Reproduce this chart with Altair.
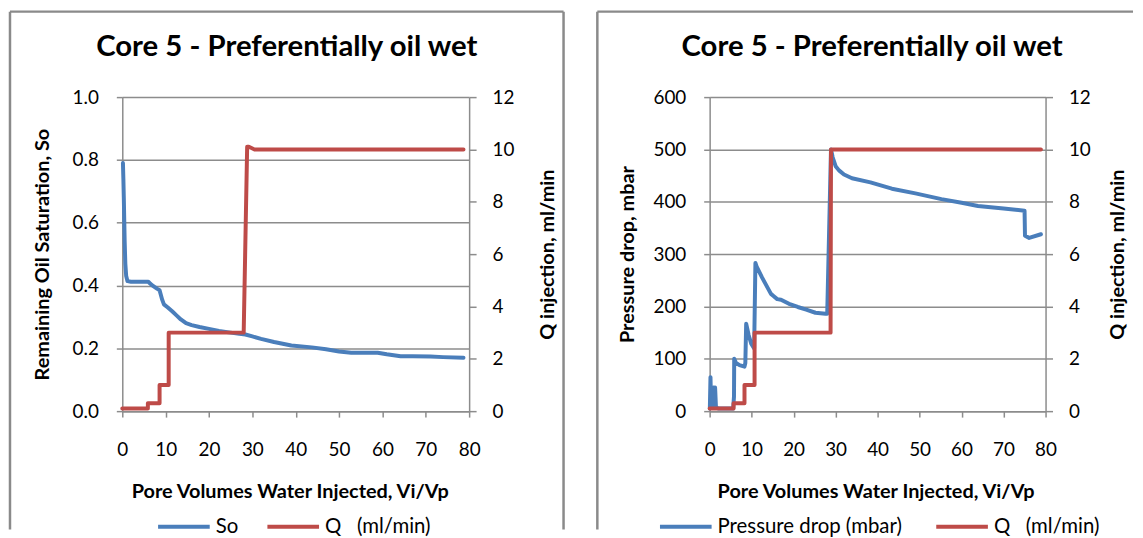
import altair as alt
import pandas as pd

FONT = "Lato"
BLUE = "#4A7EBB"
RED = "#BE4B48"
GRID = "#8C8C8C"

TITLE = "Core 5 - Preferentially oil wet"
X_TITLE = "Pore Volumes Water Injected, Vi/Vp"
Q_LABEL = "Q\u00a0\u00a0\u00a0(ml/min)"

# ---- left panel: remaining oil saturation ----
so_x = [0.15, 0.25, 0.35, 0.45, 0.55, 0.7, 0.9, 1.2, 2, 4, 6.0, 6.5, 7.0, 8.0, 8.6, 9.2, 9.6, 10.5,
        11.5, 12.5, 13.5, 14.7, 16, 17.8, 20, 22.3, 25, 27, 28.4, 30, 32, 35, 39, 43.7, 47, 50,
        52.8, 55, 58.9, 61, 64.2, 67, 71.1, 74, 78.7]
so_y = [0.79, 0.74, 0.68, 0.61, 0.54, 0.47, 0.43, 0.414, 0.412, 0.412, 0.412, 0.405, 0.40, 0.39,
        0.385, 0.355, 0.34, 0.33, 0.318, 0.305, 0.292, 0.28, 0.274, 0.268, 0.262, 0.255, 0.25,
        0.246, 0.244, 0.238, 0.23, 0.22, 0.209, 0.203, 0.197, 0.19, 0.186, 0.186, 0.186, 0.181,
        0.175, 0.175, 0.174, 0.172, 0.170]

q1_x = [0, 5.9, 5.9, 8.6, 8.6, 10.7, 10.7, 28.0, 28.8, 29.2, 30.5, 78.7]
q1_y = [0.1, 0.1, 0.3, 0.3, 1.0, 1.0, 3.0, 3.0, 10.1, 10.1, 10.0, 10.0]

# ---- right panel: pressure drop ----
dp_x = [0.05, 0.2, 0.35, 0.5, 0.7, 0.9, 1.1, 1.3, 1.5, 2.0, 5.6, 5.8, 5.85, 6.3, 7.1, 8.3, 8.5,
        8.7, 9.3, 9.9, 10.6, 10.9, 11.2, 12.5, 14.6, 15.2, 16.1, 17, 18.9, 21, 23, 25.2, 27.6,
        28.0, 28.9, 29.3, 30.0, 30.8, 32, 33.9, 38.3, 43.4, 49, 55.2, 60, 63.9, 70, 75, 75.1,
        76.1, 78.9]
dp_y = [5, 65, 10, 40, 8, 45, 12, 45, 8, 5, 5, 28, 100, 92, 88, 85, 92, 167, 145, 129, 120, 283,
        276, 255, 224, 220, 214, 213, 205, 199, 194, 188, 186, 186, 500, 485, 468, 460, 452, 445,
        437, 425, 416, 405, 398, 392, 387, 383, 335, 331, 338]

q2_x = [0, 5.7, 5.7, 8.3, 8.3, 10.7, 10.7, 28.8, 28.9, 78.9]
q2_y = [0.1, 0.1, 0.3, 0.3, 1.0, 1.0, 3.0, 3.0, 10.0, 10.0]

W1, W2, H = 349, 338, 316


def panel(width, main_x, main_y, main_name, main_title, main_dom, main_step,
          qx, qy, legend_x, col_pad, right_frame, top_end, ltitle_pad, rtitle_pad, xtitle_dx):
    d_main = pd.DataFrame({"x": main_x, "y": main_y, "s": main_name})
    d_q = pd.DataFrame({"x": qx, "q": qy, "s": Q_LABEL})
    color = alt.Color(
        "s:N",
        scale=alt.Scale(domain=[main_name, Q_LABEL], range=[BLUE, RED]),
        legend=alt.Legend(
            title=None, orient="none", legendX=legend_x, legendY=404,
            direction="horizontal", symbolType="stroke", symbolSize=2700,
            symbolStrokeWidth=4, labelFontSize=20.5, labelFont=FONT, labelColor="#000",
            columnPadding=col_pad, labelOffset=4, padding=0, labelLimit=400,
        ),
    )
    xenc = alt.X(
        "x:Q",
        scale=alt.Scale(domain=[0, 80], nice=False),
        axis=alt.Axis(
            values=list(range(0, 81, 10)), title=X_TITLE, grid=False, labelFlush=False,
            domainColor=GRID, tickColor=GRID, tickSize=6, domainWidth=1.5, tickWidth=1.5,
            labelFont=FONT, labelFontSize=19, labelColor="#000", labelPadding=24,
            titleFont=FONT, titleFontSize=20, titleFontWeight="bold", titleColor="#000",
            titlePadding=22, titleX=width / 2 + xtitle_dx,
        ),
    )
    yvals = []
    v = main_dom[0]
    while v <= main_dom[1] + 1e-9:
        yvals.append(round(v, 6))
        v += main_step
    main = alt.Chart(d_main).mark_line(strokeWidth=4, strokeJoin="round", strokeCap="round").encode(
        x=xenc,
        y=alt.Y(
            "y:Q",
            scale=alt.Scale(domain=main_dom, nice=False),
            axis=alt.Axis(
                title=main_title, values=yvals, labelFlush=False,
                format=".1f" if main_step < 1 else "d",
                grid=True, gridColor=GRID, gridWidth=1.5,
                domainColor=GRID, tickColor=GRID, tickSize=6, domainWidth=1.5, tickWidth=1.5,
                labelFont=FONT, labelFontSize=19, labelColor="#000", labelPadding=18,
                titleFont=FONT, titleFontSize=20, titleFontWeight="bold", titleColor="#000",
                titlePadding=ltitle_pad,
            ),
        ),
        color=color,
        order=alt.Order("idx:Q"),
    ).transform_window(idx="row_number()")
    q = alt.Chart(d_q).mark_line(strokeWidth=4, strokeJoin="round", strokeCap="round").encode(
        x=alt.X("x:Q", scale=alt.Scale(domain=[0, 80], nice=False)),
        y=alt.Y(
            "q:Q",
            scale=alt.Scale(domain=[0, 12], nice=False),
            axis=alt.Axis(
                title="Q injection, ml/min", orient="right", values=list(range(0, 13, 2)),
                grid=False, labelFlush=False, domainColor=GRID, tickColor=GRID, tickSize=7,
                domainWidth=1.5, tickWidth=1.5,
                labelFont=FONT, labelFontSize=19, labelColor="#000", labelPadding=16,
                titleFont=FONT, titleFontSize=20, titleFontWeight="bold", titleColor="#000",
                titlePadding=rtitle_pad, titleAngle=270,
            ),
        ),
        color=color,
        order=alt.Order("idx:Q"),
    ).transform_window(idx="row_number()")

    frame_df = pd.DataFrame({"a": [0]})
    left_edge = -113
    rules = [
        alt.Chart(frame_df).mark_rule(color="#8A8A8A", strokeWidth=2.5).encode(
            x=alt.value(left_edge), x2=alt.value(top_end), y=alt.value(-86)),
        alt.Chart(frame_df).mark_rule(color="#8A8A8A", strokeWidth=2.5).encode(
            x=alt.value(left_edge), y=alt.value(-86), y2=alt.value(435)),
    ]
    if right_frame:
        rules.append(
            alt.Chart(frame_df).mark_rule(color="#8A8A8A", strokeWidth=2.5).encode(
                x=alt.value(right_frame), y=alt.value(-86), y2=alt.value(435)))
        center = (left_edge + right_frame) / 2
    else:
        center = (left_edge + 440) / 2
    title = alt.Chart(frame_df).mark_text(
        font=FONT, fontSize=29.5, fontWeight="bold", color="#000", align="center", baseline="middle"
    ).encode(x=alt.value(center), y=alt.value(-50), text=alt.value(TITLE))

    return alt.layer(main, q, *rules, title).resolve_scale(y="independent").properties(
        width=width, height=H
    )


left = panel(W1, so_x, so_y, "So", "Remaining Oil Saturation, So", [0, 1.0], 0.2,
             q1_x, q1_y, legend_x=34, col_pad=21, right_frame=444, top_end=444,
             ltitle_pad=20, rtitle_pad=44, xtitle_dx=-6)
right = panel(W2, dp_x, dp_y, "Pressure drop (mbar)", "Pressure drop, mbar", [0, 600], 100,
              q2_x, q2_y, legend_x=-52, col_pad=26, right_frame=None, top_end=426,
              ltitle_pad=16, rtitle_pad=37, xtitle_dx=-2)

chart = alt.hconcat(left, right, spacing=242, bounds="flush").resolve_scale(
    color="independent"
).resolve_legend(color="independent").properties(padding=0).configure_view(stroke=None)

chart.save("out.html", embed_options={"renderer": "svg", "actions": False})
